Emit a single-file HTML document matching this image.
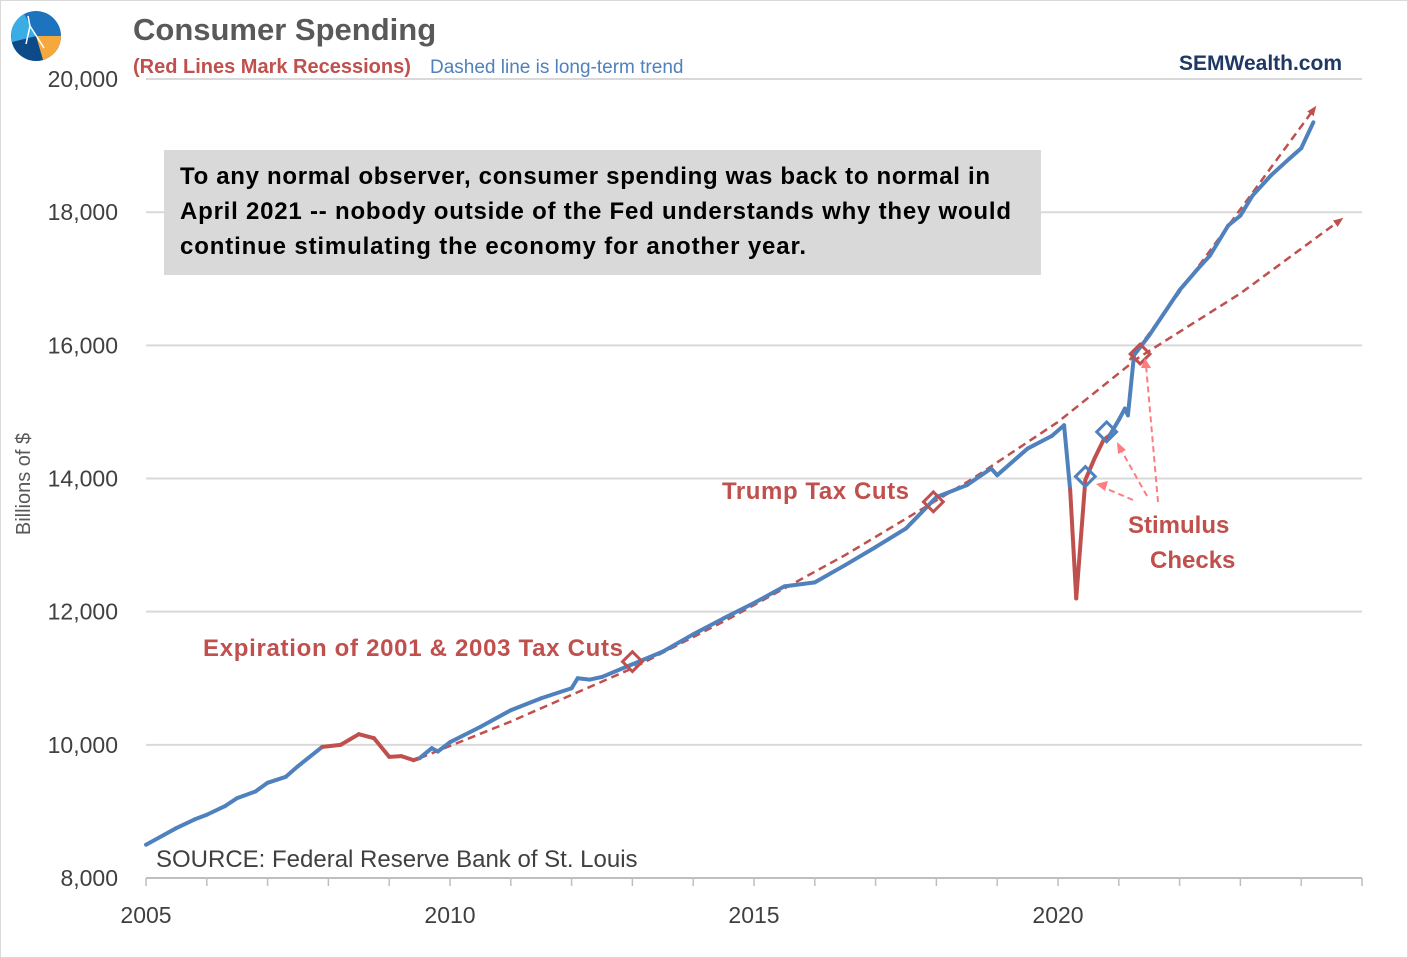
<!DOCTYPE html>
<html><head><meta charset="utf-8"><style>
body{margin:0;background:#fff;}
svg{display:block;font-family:"Liberation Sans",sans-serif;}
</style></head><body>
<svg width="1408" height="958">
<rect x="0.5" y="0.5" width="1407" height="957" fill="#fff" stroke="#d9d9d9"/>
<g id="grid"></g>
<g id="yticks"></g>
<g id="xticks"></g>
<g>
<circle cx="36" cy="36" r="25" fill="#1e73be"/>
<path d="M36 36 L61 36 A25 25 0 0 1 43 60 Z" fill="#f5a83c"/>
<path d="M36 36 L43 60 A25 25 0 0 1 12 42 Z" fill="#0d4a8a"/>
<path d="M36 36 L12 42 A25 25 0 0 1 24 14 Z" fill="#3aaee4"/>
<path d="M28 16 L30 26 L44 48 M30 26 L26 44" stroke="#fff" stroke-width="1.5" fill="none"/>
</g>
<text x="133" y="40" font-size="31" font-weight="bold" fill="#595959">Consumer Spending</text>
<text x="133" y="73" font-size="20" font-weight="bold" fill="#c0504d">(Red Lines Mark Recessions)</text>
<text x="430" y="73" font-size="19" fill="#4f81bd">Dashed line is long-term trend</text>
<text x="1342" y="70" font-size="21" font-weight="bold" fill="#1f3864" text-anchor="end">SEMWealth.com</text>
<text transform="translate(30,484) rotate(-90)" font-size="20" fill="#595959" text-anchor="middle">Billions of $</text>
<rect x="164" y="150" width="877" height="125" fill="#d9d9d9"/>
<g font-size="24" font-weight="bold" fill="#000">
<text x="180" y="184" textLength="810">To any normal observer, consumer spending was back to normal in</text>
<text x="180" y="219" textLength="831">April 2021 -- nobody outside of the Fed understands why they would</text>
<text x="180" y="254" textLength="626">continue stimulating the economy for another year.</text>
</g>
<text x="156" y="867" font-size="24" fill="#404040">SOURCE:  Federal Reserve Bank of St. Louis</text>
<g id="trend"></g>
<g id="series"></g>
<g id="marks"></g>
<g font-size="24" font-weight="bold" fill="#c0504d">
<text x="203" y="656" textLength="420">Expiration of 2001 &amp; 2003 Tax Cuts</text>
<text x="722" y="499" textLength="187">Trump Tax Cuts</text>
<text x="1128" y="533">Stimulus</text>
<text x="1150" y="568">Checks</text>
</g>
<g stroke="#ff7c80" stroke-width="2" stroke-dasharray="6,4" fill="none">
<line x1="1133" y1="500" x2="1100" y2="486"/>
<line x1="1147" y1="496" x2="1120" y2="448"/>
<line x1="1158" y1="502" x2="1146" y2="365"/>
</g>
<g fill="#ff7c80">
<polygon points="1096,484 1108,481 1105,491"/>
<polygon points="1117,442 1126,450 1118,454"/>
<polygon points="1145,358 1151,368 1141,368"/>
</g>
</svg>
<script>
const yTicks=[8000,10000,12000,14000,16000,18000,20000];
const xTicks=[2005,2010,2015,2020];
const years=[2005.0,2005.3,2005.5,2005.8,2006.0,2006.3,2006.5,2006.8,2007.0,2007.3,2007.5,2007.9,2008.2,2008.5,2008.75,2009.0,2009.2,2009.4,2009.5,2009.7,2009.8,2010.0,2010.5,2011.0,2011.5,2012.0,2012.1,2012.3,2012.5,2013.0,2013.5,2014.0,2014.5,2015.0,2015.5,2016.0,2016.5,2017.0,2017.5,2018.0,2018.5,2018.9,2019.0,2019.5,2019.9,2020.1,2020.2,2020.3,2020.45,2020.6,2020.75,2020.85,2021.0,2021.1,2021.15,2021.25,2021.5,2022.0,2022.3,2022.5,2022.8,2023.0,2023.2,2023.5,2023.8,2024.0,2024.2];
const values=[8500,8650,8750,8880,8950,9080,9200,9300,9430,9520,9680,9970,10000,10160,10100,9820,9830,9770,9800,9950,9900,10040,10270,10520,10700,10850,11000,10980,11020,11210,11400,11660,11900,12130,12380,12440,12700,12970,13250,13720,13900,14150,14050,14450,14640,14800,13830,12200,13980,14300,14580,14650,14880,15050,14950,15850,16150,16830,17150,17350,17800,17950,18250,18550,18800,18960,19350];
const recession=[0,0,0,0,0,0,0,0,0,0,0,1,1,1,1,1,1,1,1,0,0,0,0,0,0,0,0,0,0,0,0,0,0,0,0,0,0,0,0,0,0,0,0,0,0,0,1,1,1,1,1,1,0,0,0,0,0,0,0,0,0,0,0,0,0,0,0];
const trendYears=[2009.5,2011.0,2013.0,2014.6,2016.5,2018.6,2020.0,2021.3,2023.0,2024.64];
const trendVals=[9800,10350,11150,11900,12850,14000,14850,15800,16780,17880];
const trend2Years=[2021.18,2024.21];
const trend2Vals=[15780,19550];
const markYears=[2013.0,2017.95,2021.35];
const markVals=[11250,13650,15870];
const blueMarkYears=[2020.45,2020.8];
const blueMarkVals=[14030,14700];
const NS="http://www.w3.org/2000/svg";
const X=y=>146+(y-2005)*60.8;
const Y=v=>878-(v-8000)*0.06658;
function mk(t,a,p){const e=document.createElementNS(NS,t);for(const k in a)e.setAttribute(k,a[k]);p.appendChild(e);return e;}
const grid=document.getElementById('grid'),yt=document.getElementById('yticks'),xt=document.getElementById('xticks');
yTicks.forEach(v=>{
 const l=mk('line',{x1:146,x2:1362,y1:Y(v),y2:Y(v),stroke:v==8000?'#bfbfbf':'#d9d9d9','stroke-width':2},grid);
 
 
 const t=mk('text',{x:118,y:Y(v)+8,'font-size':23,fill:'#404040','text-anchor':'end'},yt);
 t.textContent=v.toLocaleString('en-US');
 
 
});
for(let yr=2005;yr<=2025;yr++){mk('line',{x1:X(yr),x2:X(yr),y1:878,y2:886,stroke:'#bfbfbf','stroke-width':1.5},xt);}
xTicks.forEach(yr=>{
 const t=mk('text',{x:X(yr),y:923,'font-size':23,fill:'#404040','text-anchor':'middle'},xt);
 t.textContent=yr;
 
 
});
const tr=document.getElementById('trend');
mk('defs',{},tr).innerHTML='<marker id="ah" markerWidth="10" markerHeight="10" refX="6" refY="4" orient="auto" markerUnits="userSpaceOnUse"><polygon points="0,0 10,4 0,8" fill="#c0504d"/></marker>';
function trendLine(ys,vs){
 const pts=ys.map((y,i)=>X(y)+','+Y(vs[i])).join(' ');
 const l=mk('polyline',{points:pts,fill:'none',stroke:'#c0504d','stroke-width':2.5,'stroke-dasharray':'8,5','marker-end':'url(#ah)'},tr);
 
 
}
trendLine(trendYears,trendVals);
trendLine(trend2Years,trend2Vals);
const ser=document.getElementById('series');
for(let i=0;i<years.length-1;i++){
 const red=recession[i]&&recession[i+1];
 const l=mk('line',{x1:X(years[i]),y1:Y(values[i]),x2:X(years[i+1]),y2:Y(values[i+1]),stroke:red?'#c0504d':'#4f81bd','stroke-width':4,'stroke-linecap':'round'},ser);
 
 
}
const mg=document.getElementById('marks');
function diamond(x,y,c){return mk('rect',{x:x-7,y:y-7,width:14,height:14,fill:'none',stroke:c,'stroke-width':3,transform:`rotate(45 ${x} ${y})`},mg);}
markYears.forEach((yr,i)=>{const d=diamond(X(yr),Y(markVals[i]),'#c0504d');
 
 });
blueMarkYears.forEach((yr,i)=>{const d=diamond(X(yr),Y(blueMarkVals[i]),'#4f81bd');
 
 });
</script>
</body></html>
